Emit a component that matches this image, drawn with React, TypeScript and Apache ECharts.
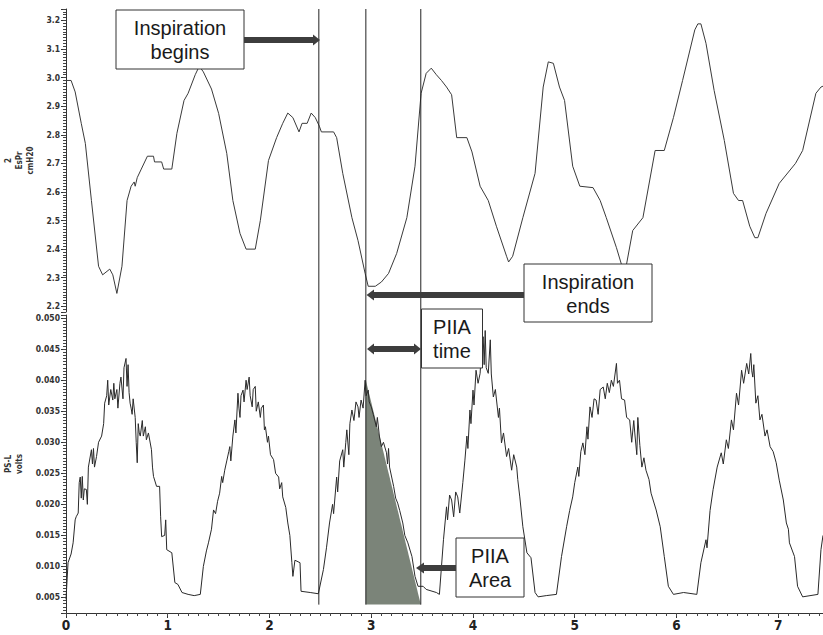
import React, { useEffect, useRef } from 'react';
import * as echarts from 'echarts';

// Top panel: esophageal pressure (cmH2O) vs time (s)
const esprT = [0, 0.05, 0.09, 0.15, 0.19, 0.25, 0.32, 0.36, 0.43, 0.46, 0.5, 0.55, 0.6, 0.64, 0.67, 0.68, 0.7, 0.74, 0.8, 0.86, 0.87, 0.94, 0.96, 1.04, 1.09, 1.16, 1.2, 1.27, 1.31, 1.35, 1.43, 1.5, 1.58, 1.64, 1.71, 1.77, 1.86, 1.91, 1.99, 2.07, 2.13, 2.18, 2.23, 2.29, 2.32, 2.37, 2.41, 2.45, 2.49, 2.51, 2.63, 2.66, 2.72, 2.81, 2.87, 2.94, 2.97, 3.04, 3.1, 3.17, 3.25, 3.35, 3.43, 3.49, 3.54, 3.59, 3.64, 3.69, 3.74, 3.79, 3.84, 3.94, 3.99, 4.07, 4.15, 4.23, 4.33, 4.35, 4.39, 4.49, 4.61, 4.69, 4.74, 4.79, 4.85, 4.9, 4.98, 5.05, 5.18, 5.25, 5.31, 5.41, 5.49, 5.57, 5.67, 5.79, 5.88, 5.97, 6.06, 6.18, 6.21, 6.24, 6.29, 6.37, 6.47, 6.56, 6.61, 6.65, 6.72, 6.77, 6.8, 6.88, 7.01, 7.17, 7.24, 7.37, 7.42, 7.44];
const esprV = [2.99, 2.99, 2.95, 2.84, 2.77, 2.57, 2.34, 2.31, 2.33, 2.31, 2.245, 2.34, 2.57, 2.62, 2.635, 2.62, 2.65, 2.68, 2.725, 2.725, 2.705, 2.705, 2.68, 2.68, 2.805, 2.92, 2.945, 3.01, 3.04, 3.02, 2.96, 2.875, 2.735, 2.57, 2.455, 2.4, 2.4, 2.5, 2.71, 2.79, 2.84, 2.876, 2.86, 2.81, 2.84, 2.84, 2.876, 2.86, 2.83, 2.81, 2.81, 2.79, 2.665, 2.51, 2.43, 2.315, 2.27, 2.27, 2.285, 2.315, 2.385, 2.51, 2.69, 2.945, 3.015, 3.033, 3.01, 2.99, 2.967, 2.94, 2.79, 2.79, 2.74, 2.62, 2.57, 2.48, 2.375, 2.355, 2.375, 2.51, 2.665, 2.967, 3.055, 3.05, 2.967, 2.92, 2.69, 2.62, 2.615, 2.57, 2.51, 2.405, 2.31, 2.465, 2.51, 2.745, 2.745, 2.86, 2.99, 3.167, 3.188, 3.188, 3.12, 2.955, 2.78, 2.595, 2.57, 2.57, 2.48, 2.44, 2.44, 2.525, 2.63, 2.7, 2.745, 2.945, 2.967, 2.97];

// Bottom panel: PS-L (volts) vs time (s)
const pslT = [
  0, 0.02, 0.05, 0.07, 0.09, 0.1, 0.12, 0.13, 0.14, 0.15, 0.16, 0.17, 0.18, 0.2, 0.21, 0.22, 0.25, 0.26, 0.27, 0.28, 0.3, 0.32, 0.35, 0.37, 0.38, 0.4, 0.41, 0.42, 0.44, 0.46, 0.47, 0.48, 0.5, 0.51, 0.53, 0.54, 0.56, 0.57, 0.59, 0.6, 0.61, 0.62, 0.63, 0.64, 0.65, 0.66, 0.68, 0.69, 0.7, 0.71, 0.72, 0.73, 0.75, 0.76, 0.78, 0.79, 0.81, 0.84, 0.85, 0.86, 0.89, 0.92, 0.93, 0.94, 0.97, 0.98, 0.99, 1.04, 1.07, 1.1, 1.14, 1.2, 1.26, 1.32,
  1.35, 1.38, 1.4, 1.43, 1.45, 1.47, 1.49, 1.51, 1.53, 1.54, 1.56, 1.58, 1.6, 1.61, 1.62, 1.64, 1.66, 1.67, 1.69, 1.7, 1.71, 1.72, 1.74, 1.75, 1.77, 1.78, 1.8, 1.81, 1.83, 1.84, 1.86, 1.87, 1.89, 1.91, 1.92, 1.94, 1.95, 1.96, 1.98, 1.99, 2.01, 2.04, 2.06, 2.09, 2.1, 2.12, 2.13, 2.16, 2.18, 2.2, 2.22, 2.23, 2.25, 2.3, 2.31, 2.4, 2.48,
  2.53, 2.56, 2.59, 2.62, 2.63, 2.66, 2.67, 2.69, 2.72, 2.73, 2.75, 2.76, 2.78, 2.79, 2.81, 2.83, 2.85, 2.87, 2.88, 2.9, 2.92, 2.94, 2.95, 2.97, 2.98, 3.0, 3.02, 3.05, 3.06, 3.08, 3.1, 3.12, 3.15, 3.16, 3.17, 3.18, 3.22, 3.24, 3.26, 3.28, 3.31, 3.33, 3.36, 3.4, 3.43, 3.46, 3.51, 3.54, 3.64, 3.67,
  3.71, 3.74, 3.75, 3.77, 3.79, 3.81, 3.83, 3.85, 3.87, 3.9, 3.92, 3.94, 3.95, 3.97, 3.98, 4.0, 4.01, 4.03, 4.05, 4.07, 4.08, 4.1, 4.11, 4.12, 4.13, 4.15, 4.17, 4.18, 4.2, 4.22, 4.25, 4.26, 4.28, 4.3, 4.33, 4.35, 4.38, 4.4, 4.43, 4.44, 4.46, 4.49, 4.53, 4.57, 4.61, 4.64, 4.72, 4.82,
  4.87, 4.92, 4.95, 4.98, 5.0, 5.03, 5.04, 5.06, 5.08, 5.1, 5.12, 5.13, 5.15, 5.17, 5.19, 5.21, 5.23, 5.25, 5.28, 5.3, 5.32, 5.34, 5.36, 5.38, 5.41, 5.42, 5.44, 5.46, 5.49, 5.51, 5.54, 5.56, 5.58, 5.59, 5.61, 5.62, 5.64, 5.66, 5.68, 5.7, 5.73, 5.75, 5.8, 5.84, 5.88, 5.92, 5.97, 6.07, 6.2,
  6.24, 6.29, 6.3, 6.33, 6.36, 6.4, 6.44, 6.46, 6.49, 6.51, 6.54, 6.56, 6.59, 6.61, 6.64, 6.66, 6.69, 6.71, 6.73, 6.74, 6.75, 6.76, 6.78, 6.8, 6.82, 6.84, 6.87, 6.89, 6.92, 6.95, 6.98, 7.01, 7.05, 7.08, 7.1, 7.11, 7.16, 7.19, 7.24, 7.39, 7.42, 7.44,
];
const pslV = [
  0.0047, 0.0106, 0.012, 0.0138, 0.0175, 0.018, 0.0186, 0.0235, 0.0244, 0.021, 0.0245, 0.0207, 0.0225, 0.0224, 0.02, 0.026, 0.0288, 0.0265, 0.029, 0.026, 0.0277, 0.03, 0.031, 0.033, 0.0363, 0.0375, 0.04, 0.036, 0.0385, 0.0368, 0.0395, 0.037, 0.0385, 0.0355, 0.0395, 0.0405, 0.037, 0.042, 0.0435, 0.039, 0.0425, 0.038, 0.0363, 0.0355, 0.0345, 0.037, 0.034, 0.03, 0.0267, 0.033, 0.0315, 0.031, 0.0335, 0.031, 0.0325, 0.0304, 0.0315, 0.0288, 0.026, 0.0245, 0.0229, 0.0229, 0.018, 0.0148, 0.015, 0.0175, 0.0127, 0.0122, 0.0074, 0.0071, 0.0058, 0.0055, 0.0053, 0.0055,
  0.01, 0.0125, 0.0138, 0.016, 0.0191, 0.0185, 0.0205, 0.0218, 0.0245, 0.0235, 0.0255, 0.027, 0.0285, 0.0293, 0.027, 0.031, 0.0336, 0.0315, 0.0379, 0.0355, 0.034, 0.0375, 0.0384, 0.0365, 0.04, 0.0385, 0.0405, 0.0375, 0.0357, 0.0385, 0.039, 0.035, 0.0365, 0.034, 0.0355, 0.036, 0.032, 0.0325, 0.03, 0.031, 0.028, 0.0272, 0.025, 0.0244, 0.0225, 0.0235, 0.0212, 0.0195, 0.017, 0.015, 0.0106, 0.0084, 0.011, 0.0106, 0.006, 0.0058, 0.0056,
  0.0095, 0.013, 0.017, 0.02, 0.0185, 0.0244, 0.022, 0.027, 0.0288, 0.026, 0.03, 0.032, 0.028, 0.033, 0.0352, 0.0335, 0.0365, 0.0357, 0.034, 0.0368, 0.0355, 0.04, 0.0375, 0.0384, 0.0365, 0.0357, 0.0345, 0.0325, 0.034, 0.031, 0.0293, 0.03, 0.0283, 0.0265, 0.029, 0.026, 0.0229, 0.021, 0.0202, 0.019, 0.017, 0.015, 0.0138, 0.0116, 0.0084, 0.0068, 0.0068, 0.0063, 0.0058, 0.0055,
  0.0143, 0.0196, 0.0175, 0.0215, 0.0207, 0.018, 0.022, 0.0212, 0.0186, 0.0235, 0.027, 0.031, 0.029, 0.0352, 0.033, 0.0384, 0.036, 0.0416, 0.0395, 0.0411, 0.044, 0.047, 0.0425, 0.048, 0.042, 0.0411, 0.0465, 0.041, 0.0373, 0.0385, 0.034, 0.0355, 0.0299, 0.0315, 0.0277, 0.029, 0.0255, 0.028, 0.026, 0.024, 0.0212, 0.0164, 0.0122, 0.0114, 0.0058, 0.0051, 0.0053, 0.0055,
  0.0116, 0.0164, 0.019, 0.0212, 0.0235, 0.026, 0.0245, 0.0285, 0.0299, 0.028, 0.0325, 0.0305, 0.0357, 0.034, 0.037, 0.0368, 0.0345, 0.0385, 0.0389, 0.037, 0.0395, 0.038, 0.04, 0.039, 0.0427, 0.0395, 0.04, 0.037, 0.0368, 0.034, 0.0336, 0.03, 0.0335, 0.0315, 0.028, 0.034, 0.0295, 0.026, 0.0275, 0.0255, 0.024, 0.0218, 0.0191, 0.0164, 0.0116, 0.0068, 0.0055, 0.0058, 0.0055,
  0.0106, 0.0143, 0.013, 0.019, 0.0224, 0.026, 0.0283, 0.0265, 0.0304, 0.029, 0.0336, 0.032, 0.0379, 0.036, 0.0416, 0.0395, 0.0427, 0.041, 0.0443, 0.0415, 0.0405, 0.0425, 0.0363, 0.0375, 0.0336, 0.0345, 0.031, 0.032, 0.0293, 0.0285, 0.0267, 0.0239, 0.0207, 0.017, 0.016, 0.0138, 0.0116, 0.0068, 0.0051, 0.0055, 0.0127, 0.015,
];

// Event markers (s)
const markerTimes = [2.485, 2.947, 3.487];
// PIIA triangle: [start time, peak volts, end time, base volts]
const piiaTriangle = [2.947, 0.04, 3.487, 0.00385];

// Axis ranges and tick steps
const topMin = 2.18;
const topMax = 3.24;
const topStep = 0.1;
const topMinorStep = 0.01;
const botMin = 0.0025;
const botMax = 0.0505;
const botStep = 0.005;
const botMinorStep = 0.0005;
const xMax = 7.44;
const xStep = 1;
const xMinorStep = 0.1;

const zip = (a: number[], b: number[]) => a.map((t, i) => [t, b[i]]);

const labelFont = "'DejaVu Sans Condensed', 'DejaVu Sans', sans-serif";
const boxFont = "'Liberation Sans', Arial, sans-serif";

export default function App() {
  const ref = useRef<HTMLDivElement>(null);

  useEffect(() => {
    const chart = echarts.init(ref.current!, null, { renderer: 'svg' });
    const axisColor = '#333';
    const arrowColor = '#3d3d3d';

    const yAxisCommon = {
      type: 'value',
      nameLocation: 'middle',
      nameRotate: 90,
      nameTextStyle: { fontFamily: labelFont, fontSize: 8, fontWeight: 'bold', color: '#333', lineHeight: 11 },
      axisLine: { show: true, lineStyle: { color: axisColor, width: 1 } },
      axisTick: { show: true, length: 5, lineStyle: { color: axisColor } },
      splitLine: { show: false },
    };
    const minorAxisCommon = {
      type: 'value',
      axisLine: { show: false },
      axisLabel: { show: false },
      splitLine: { show: false },
      axisTick: { show: true, length: 3, lineStyle: { color: '#444', width: 1 } },
    };

    const option: any = {
      animation: false,
      backgroundColor: '#fff',
      grid: [
        { left: 66, right: 0, top: 9, height: 303, outerBoundsMode: 'none', containLabel: false },
        { left: 66, right: 0, top: 315, height: 298, outerBoundsMode: 'none', containLabel: false },
      ],
      xAxis: [
        { gridIndex: 0, type: 'value', min: 0, max: xMax, show: false },
        {
          gridIndex: 1,
          type: 'value',
          min: 0,
          max: xMax,
          interval: xStep,
          axisLine: { show: true, lineStyle: { color: axisColor } },
          axisTick: { show: true, length: 5, lineStyle: { color: axisColor } },
          splitLine: { show: false },
          axisLabel: {
            margin: 5,
            fontFamily: "'Liberation Sans Narrow', 'DejaVu Sans Condensed', sans-serif",
            fontWeight: 'bold',
            fontSize: 13.5,
            lineHeight: 14,
            color: '#222',
            showMaxLabel: false,
            formatter: (v: number) => (Math.abs(v - Math.round(v)) < 1e-6 ? String(Math.round(v)) : ''),
          },
        },
        { ...minorAxisCommon, gridIndex: 1, position: 'bottom', min: 0, max: xMax, interval: xMinorStep },
      ],
      yAxis: [
        {
          ...yAxisCommon,
          gridIndex: 0,
          min: topMin,
          max: topMax,
          splitNumber: 10,
          minInterval: topStep,
          maxInterval: topStep,
          name: '2\nEsPr\ncmH20',
          nameGap: 26,
          axisLabel: {
            margin: 6,
            fontFamily: labelFont,
            fontSize: 8.5,
            fontWeight: 'bold',
            color: '#333',
            formatter: (v: number) => (Math.abs(v / topStep - Math.round(v / topStep)) < 1e-6 ? v.toFixed(1) : ''),
          },
        },
        {
          ...yAxisCommon,
          gridIndex: 1,
          min: botMin,
          max: botMax,
          splitNumber: 9,
          minInterval: botStep,
          maxInterval: botStep,
          name: 'PS-L\nvolts',
          nameGap: 31,
          axisLabel: {
            margin: 6,
            fontFamily: labelFont,
            fontSize: 8.5,
            fontWeight: 'bold',
            color: '#333',
            formatter: (v: number) => (Math.abs(v / botStep - Math.round(v / botStep)) < 1e-6 ? v.toFixed(3) : ''),
          },
        },
        { ...minorAxisCommon, gridIndex: 0, position: 'left', min: topMin, max: topMax, interval: topMinorStep },
        { ...minorAxisCommon, gridIndex: 1, position: 'left', min: botMin, max: botMax, interval: botMinorStep },
      ],
      series: [
        {
          type: 'custom',
          xAxisIndex: 1,
          yAxisIndex: 1,
          z: 1,
          data: [piiaTriangle],
          encode: { x: [0, 2], y: [1, 3] },
          renderItem: (params: any, api: any) => {
            const p1 = api.coord([api.value(0), api.value(1)]);
            const p2 = api.coord([api.value(2), api.value(3)]);
            const p3 = api.coord([api.value(0), api.value(3)]);
            return { type: 'polygon', shape: { points: [p1, p2, p3] }, style: { fill: '#7b8479' } };
          },
        },
        {
          type: 'line',
          xAxisIndex: 0,
          yAxisIndex: 0,
          z: 3,
          data: zip(esprT, esprV),
          showSymbol: false,
          lineStyle: { color: '#3a3a3a', width: 1 },
        },
        {
          type: 'line',
          xAxisIndex: 1,
          yAxisIndex: 1,
          z: 3,
          data: zip(pslT, pslV),
          showSymbol: false,
          lineStyle: { color: '#2a2a2a', width: 1 },
        },
        {
          type: 'custom',
          xAxisIndex: 0,
          yAxisIndex: 0,
          z: 4,
          data: markerTimes.map((t) => [t, topMin, topMax]),
          encode: { x: 0, y: [1, 2] },
          renderItem: (params: any, api: any) => {
            const a = api.coord([api.value(0), api.value(2)]);
            const b = api.coord([api.value(0), api.value(1)]);
            return {
              type: 'line',
              shape: { x1: a[0], y1: a[1], x2: b[0], y2: b[1] + 3 },
              style: { stroke: '#222', lineWidth: 1 },
            };
          },
        },
        {
          type: 'custom',
          xAxisIndex: 1,
          yAxisIndex: 1,
          z: 4,
          data: markerTimes.map((t) => [t, piiaTriangle[3], botMax]),
          encode: { x: 0, y: [1, 2] },
          renderItem: (params: any, api: any) => {
            const a = api.coord([api.value(0), api.value(2)]);
            const b = api.coord([api.value(0), api.value(1)]);
            return {
              type: 'line',
              shape: { x1: a[0], y1: a[1], x2: b[0], y2: b[1] },
              style: { stroke: '#222', lineWidth: 1 },
            };
          },
        },
      ],
      graphic: [
        // Inspiration begins
        { type: 'rect', z: 10, shape: { x: 116, y: 10, width: 128, height: 59 }, style: { fill: '#fff', stroke: '#333', lineWidth: 1 } },
        { type: 'text', z: 11, x: 180, y: 40, style: { text: 'Inspiration\nbegins', fontFamily: boxFont, fontSize: 20, lineHeight: 24, fill: '#1a1a1a', align: 'center', verticalAlign: 'middle' } },
        { type: 'rect', z: 10, shape: { x: 244, y: 37, width: 70, height: 6 }, style: { fill: arrowColor } },
        { type: 'polygon', z: 10, shape: { points: [[313, 34.5], [320, 40], [313, 45.5]] }, style: { fill: arrowColor } },
        // Inspiration ends
        { type: 'rect', z: 10, shape: { x: 524, y: 264, width: 128, height: 58 }, style: { fill: '#fff', stroke: '#333', lineWidth: 1 } },
        { type: 'text', z: 11, x: 588, y: 294, style: { text: 'Inspiration\nends', fontFamily: boxFont, fontSize: 20, lineHeight: 24, fill: '#1a1a1a', align: 'center', verticalAlign: 'middle' } },
        { type: 'rect', z: 10, shape: { x: 373, y: 292, width: 151, height: 6 }, style: { fill: arrowColor } },
        { type: 'polygon', z: 10, shape: { points: [[374, 289.5], [366.5, 295], [374, 300.5]] }, style: { fill: arrowColor } },
        // PIIA time
        { type: 'rect', z: 10, shape: { x: 421.5, y: 309, width: 61, height: 59 }, style: { fill: '#fff', stroke: '#333', lineWidth: 1 } },
        { type: 'text', z: 11, x: 452, y: 339, style: { text: 'PIIA\ntime', fontFamily: boxFont, fontSize: 20, lineHeight: 24, fill: '#1a1a1a', align: 'center', verticalAlign: 'middle' } },
        { type: 'rect', z: 10, shape: { x: 373, y: 346, width: 42, height: 6 }, style: { fill: arrowColor } },
        { type: 'polygon', z: 10, shape: { points: [[374, 343.5], [367, 349], [374, 354.5]] }, style: { fill: arrowColor } },
        { type: 'polygon', z: 10, shape: { points: [[414, 343.5], [421, 349], [414, 354.5]] }, style: { fill: arrowColor } },
        // PIIA Area
        { type: 'rect', z: 10, shape: { x: 456, y: 538, width: 68, height: 59 }, style: { fill: '#fff', stroke: '#333', lineWidth: 1 } },
        { type: 'text', z: 11, x: 490, y: 568, style: { text: 'PIIA\nArea', fontFamily: boxFont, fontSize: 20, lineHeight: 24, fill: '#1a1a1a', align: 'center', verticalAlign: 'middle' } },
        { type: 'rect', z: 10, shape: { x: 423, y: 565, width: 33, height: 6 }, style: { fill: arrowColor } },
        { type: 'polygon', z: 10, shape: { points: [[424, 562.5], [416, 568], [424, 573.5]] }, style: { fill: arrowColor } },
      ],
    };

    chart.setOption(option);
    return () => chart.dispose();
  }, []);

  return (
    <div
      ref={ref}
      style={{ position: 'fixed', left: 0, top: 0, width: 823, height: 635, background: '#fff' }}
    />
  );
}
